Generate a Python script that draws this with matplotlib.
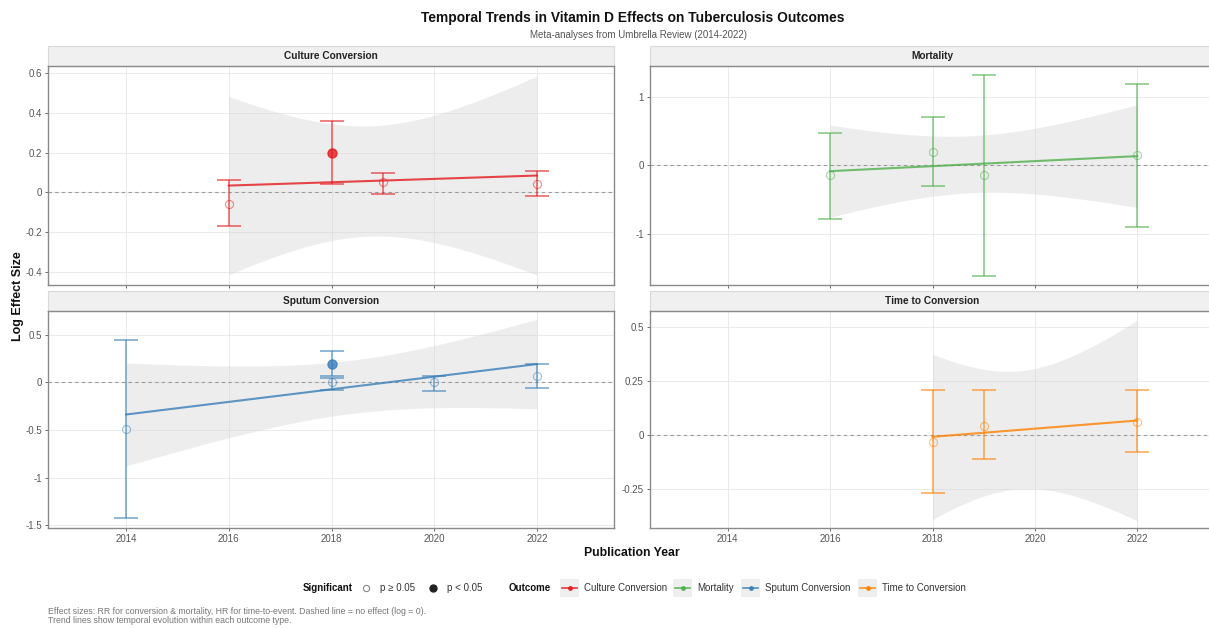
import matplotlib
matplotlib.use('Agg')
import matplotlib.pyplot as plt
from matplotlib.patches import Rectangle
import numpy as np

plt.rcParams['font.family'] = ['Liberation Sans', 'DejaVu Sans']

# colours per outcome (Set1-like)
col_culture = '#E41A1C'
col_mort = '#4DAF4A'
col_sputum = '#377EB8'
col_time = '#FF7F00'

# Culture Conversion
years_culture = [2016, 2018, 2019, 2022]
est_culture = [-0.06, 0.20, 0.05, 0.04]
lo_culture = [-0.17, 0.04, -0.01, -0.02]
hi_culture = [0.06, 0.36, 0.10, 0.11]
sig_culture = [False, True, False, False]

# Mortality
years_mort = [2016, 2018, 2019, 2022]
est_mort = [-0.14, 0.20, -0.14, 0.15]
lo_mort = [-0.78, -0.30, -1.62, -0.90]
hi_mort = [0.47, 0.71, 1.32, 1.19]
sig_mort = [False, False, False, False]

# Sputum Conversion
years_sputum = [2014, 2018, 2018, 2020, 2022]
est_sputum = [-0.49, 0.19, 0.00, 0.00, 0.07]
lo_sputum = [-1.43, 0.07, -0.08, -0.09, -0.06]
hi_sputum = [0.45, 0.33, 0.05, 0.07, 0.19]
sig_sputum = [False, True, False, False, False]

# Time to Conversion
years_time = [2018, 2019, 2022]
est_time = [-0.03, 0.04, 0.06]
lo_time = [-0.27, -0.11, -0.08]
hi_time = [0.21, 0.21, 0.21]
sig_time = [False, False, False]

panel_titles = ['Culture Conversion', 'Mortality', 'Sputum Conversion', 'Time to Conversion']
xticks = [2014, 2016, 2018, 2020, 2022]

# t quantiles (0.975) for small residual df, for the lm confidence band
t975 = {1: 12.706, 2: 4.303, 3: 3.182, 4: 2.776}

W, H = 1209, 628
fig = plt.figure(figsize=(W / 100, H / 100), dpi=100)


def px_axes(left, top, right, bottom):
    return fig.add_axes([left / W, 1 - bottom / H, (right - left) / W, (bottom - top) / H])


def draw_panel(ax, title, yrs, est, lo, hi, sig, col, ylim, yticks, show_x):
    yrs = np.array(yrs, float)
    est = np.array(est, float)
    # linear trend + 95% CI like geom_smooth(method = 'lm')
    n = len(yrs)
    xm = yrs.mean()
    sxx = ((yrs - xm) ** 2).sum()
    slope = ((yrs - xm) * (est - est.mean())).sum() / sxx
    icpt = est.mean() - slope * xm
    resid = est - (icpt + slope * yrs)
    s = np.sqrt((resid ** 2).sum() / (n - 2))
    xg = np.linspace(yrs.min(), yrs.max(), 100)
    fit = icpt + slope * xg
    se = s * np.sqrt(1 / n + (xg - xm) ** 2 / sxx)
    hw = t975[n - 2] * se
    ax.fill_between(xg, fit - hw, fit + hw, color='#d4d4d4', alpha=0.4, lw=0, zorder=1)
    ax.axhline(0, color='#999999', ls=(0, (3, 3)), lw=0.8, zorder=1.5)
    for x, e, l, h, sg in zip(yrs, est, lo, hi, sig):
        ax.errorbar(x, e, yerr=[[e - l], [h - e]], fmt='none', ecolor=col, elinewidth=1.3,
                    capsize=8.5, capthick=1.3, alpha=0.6, zorder=2)
        if sg:
            ax.plot(x, e, 'o', color=col, ms=6.5, alpha=0.8, zorder=3)
        else:
            ax.plot(x, e, 'o', mfc='none', mec=col, mew=0.8, ms=5.8, alpha=0.5, zorder=3)
    ax.plot(xg, fit, color=col, lw=1.5, alpha=0.8, zorder=4)

    ax.set_xlim(2012.48, 2023.5)
    ax.set_ylim(*ylim)
    ax.set_xticks(xticks)
    ax.set_yticks(yticks)
    ax.set_yticklabels([f'{v:g}' for v in yticks])
    if show_x:
        ax.set_xticklabels([str(v) for v in xticks])
    else:
        ax.set_xticklabels([])
    ax.grid(True, color='#e6e6e6', lw=0.6, zorder=0)
    ax.set_axisbelow(True)
    ax.tick_params(labelsize=7, colors='#555555', length=2.5, width=0.6, pad=2)
    for sp in ax.spines.values():
        sp.set_color('#8a8a8a')
        sp.set_linewidth(1.0)
    # facet strip
    strip_h = 20 / (ax.get_position().height * H)
    ax.add_patch(Rectangle((0, 1), 1, strip_h, transform=ax.transAxes, clip_on=False,
                           facecolor='#f0f0f0', edgecolor='#d9d9d9', lw=0.8))
    ax.text(0.5, 1 + strip_h / 2, title, transform=ax.transAxes, ha='center', va='center',
            fontsize=7.3, fontweight='bold', color='#222222')


ax1 = px_axes(48, 66, 614, 285)
ax2 = px_axes(650, 66, 1214, 285)
ax3 = px_axes(48, 311, 614, 528)
ax4 = px_axes(650, 311, 1214, 528)

draw_panel(ax1, panel_titles[0], years_culture, est_culture, lo_culture, hi_culture, sig_culture,
           col_culture, (-0.465, 0.635), [-0.4, -0.2, 0, 0.2, 0.4, 0.6], False)
draw_panel(ax2, panel_titles[1], years_mort, est_mort, lo_mort, hi_mort, sig_mort,
           col_mort, (-1.75, 1.456), [-1, 0, 1], False)
draw_panel(ax3, panel_titles[2], years_sputum, est_sputum, lo_sputum, hi_sputum, sig_sputum,
           col_sputum, (-1.53, 0.75), [-1.5, -1, -0.5, 0, 0.5], True)
draw_panel(ax4, panel_titles[3], years_time, est_time, lo_time, hi_time, sig_time,
           col_time, (-0.43, 0.574), [-0.25, 0, 0.25, 0.5], True)

# overlay in pixel coordinates for titles, legend and caption
ov = fig.add_axes([0, 0, 1, 1], zorder=-1)
ov.set_xlim(0, W)
ov.set_ylim(H, 0)
ov.axis('off')

ov.text(633, 18, 'Temporal Trends in Vitamin D Effects on Tuberculosis Outcomes', ha='center', va='center',
        fontsize=9.9, fontweight='bold', color='#111111')
ov.text(639, 35, 'Meta-analyses from Umbrella Review (2014-2022)', ha='center', va='center',
        fontsize=7, color='#555555')
ov.text(18, 296, 'Log Effect Size', rotation=90, ha='center', va='center', fontsize=9,
        fontweight='bold', color='#111111')
ov.text(632, 553, 'Publication Year', ha='center', va='center', fontsize=8.8, fontweight='bold',
        color='#111111')

ly = 588
ov.text(303, ly, 'Significant', ha='left', va='center', fontsize=7, fontweight='bold', color='#111111')
ov.plot(366, ly, 'o', mfc='none', mec='#888888', mew=0.8, ms=4.5)
ov.text(380, ly, 'p ≥ 0.05', ha='left', va='center', fontsize=7, color='#333333')
ov.plot(433, ly, 'o', color='#222222', ms=5)
ov.text(447, ly, 'p < 0.05', ha='left', va='center', fontsize=7, color='#333333')
ov.text(509, ly, 'Outcome', ha='left', va='center', fontsize=7, fontweight='bold', color='#111111')

leg_keys = [(560, col_culture, 'Culture Conversion'), (673, col_mort, 'Mortality'),
            (741, col_sputum, 'Sputum Conversion'), (858, col_time, 'Time to Conversion')]
for kx, kc, kl in leg_keys:
    ov.add_patch(Rectangle((kx, ly - 9), 19, 18, facecolor='#eeeeee', edgecolor='none'))
    ov.plot([kx + 2, kx + 17], [ly, ly], color=kc, lw=1.2, alpha=0.85)
    ov.plot(kx + 9.5, ly, 'o', color=kc, ms=2.5, alpha=0.85)
    ov.text(kx + 24, ly, kl, ha='left', va='center', fontsize=7, color='#333333')

ov.text(48, 611, 'Effect sizes: RR for conversion & mortality, HR for time-to-event. Dashed line = no effect (log = 0).',
        ha='left', va='center', fontsize=6.3, color='#777777')
ov.text(48, 620.5, 'Trend lines show temporal evolution within each outcome type.',
        ha='left', va='center', fontsize=6.3, color='#777777')

fig.savefig('out.png', dpi=100, facecolor='white')
